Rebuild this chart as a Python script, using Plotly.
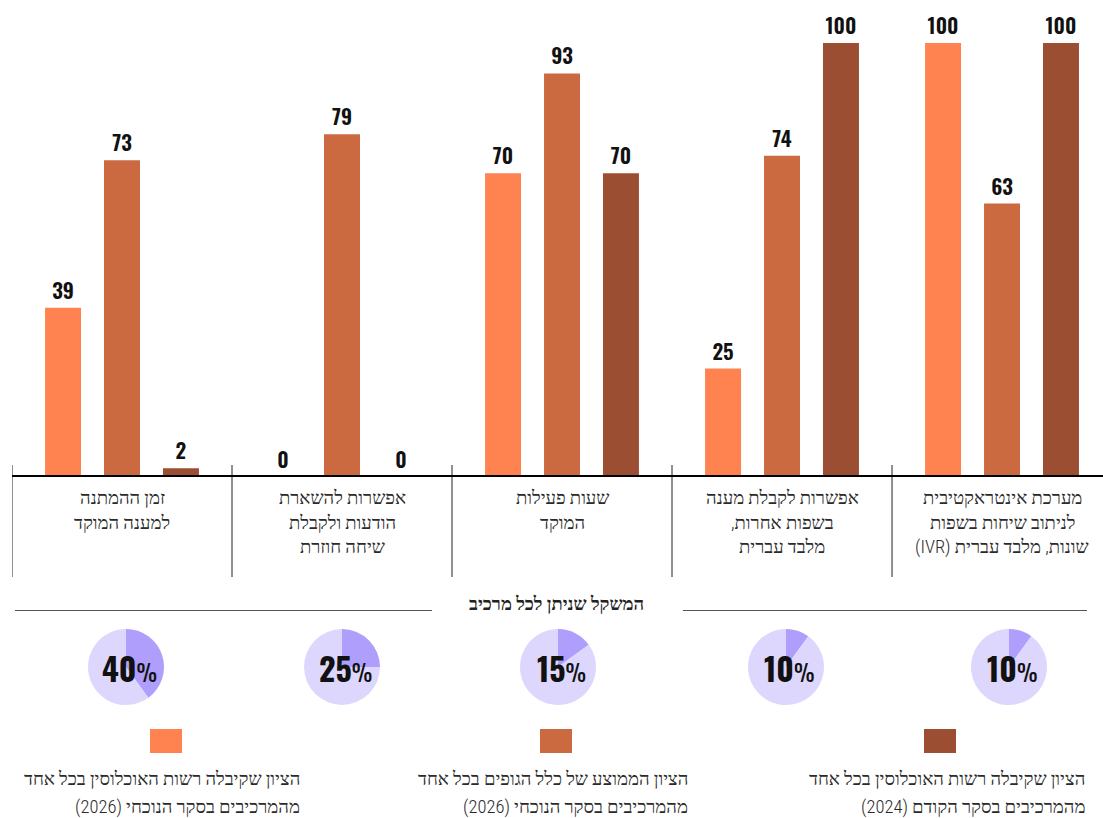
import plotly.graph_objects as go

# ---- data ----
category_lines = [
    ["זמן ההמתנה", "למענה המוקד"],
    ["אפשרות להשארת", "הודעות ולקבלת", "שיחה חוזרת"],
    ["שעות פעילות", "המוקד"],
    ["אפשרות לקבלת מענה", "בשפות אחרות,", "מלבד עברית"],
    ["מערכת אינטראקטיבית", "לניתוב שיחות בשפות", "שונות, מלבד עברית (IVR)"],
]
pop_2026 = [39, 0, 70, 25, 100]
avg_2026 = [73, 79, 93, 74, 63]
pop_2024 = [2, 0, 70, 100, 100]
weights = [40, 25, 15, 10, 10]
weights_title = "המשקל שניתן לכל מרכיב"
series_lines = [
    ["הציון שקיבלה רשות האוכלוסין בכל אחד", "מהמרכיבים בסקר הנוכחי (2026)"],
    ["הציון הממוצע של כלל הגופים בכל אחד", "מהמרכיבים בסקר הנוכחי (2026)"],
    ["הציון שקיבלה רשות האוכלוסין בכל אחד", "מהמרכיבים בסקר הקודם (2024)"],
]
colors = ["#FF8351", "#CB6940", "#9B4E31"]
pie_main = "#B09EFC"
pie_rest = "#DDD7FE"

W, H = 1103, 818
HEB = "Roboto Condensed, serif"
NUM = "Oswald, Roboto Condensed, sans-serif"
RLE, PDF = "\u202B", "\u202C"


def rtl(s):
    return RLE + s + PDF


def px(x):
    return x / W


def py(y):
    return 1 - y / H


x = list(range(len(category_lines)))
series = [pop_2026, avg_2026, pop_2024]

fig = go.Figure()
for vals, col, name in zip(series, colors, series_lines):
    fig.add_trace(go.Bar(
        x=x, y=vals, marker_color=col, marker_line_width=0,
        text=vals, texttemplate="%{text}", textposition="outside",
        constraintext="none", cliponaxis=False,
        textfont=dict(family=NUM, size=21, color="#111111", weight=600),
        hoverinfo="skip", showlegend=False, name=name[0],
        xaxis="x", yaxis="y",
    ))

ann = []
shapes = []

# category labels (one annotation per line)
cat_line_y = [498, 522.5, 547]
for i, lines in enumerate(category_lines):
    for j, line in enumerate(lines):
        ann.append(dict(x=i, xref="x", y=py(cat_line_y[j]), yref="paper", text=rtl(line),
                        showarrow=False, xanchor="center", yanchor="middle",
                        font=dict(family=HEB, size=18.5, color="#2a2a2a", weight=300)))

# separators
for i in range(len(category_lines)):
    shapes.append(dict(type="line", xref="x", x0=i - 0.5, x1=i - 0.5,
                       yref="paper", y0=py(465), y1=py(577),
                       line=dict(color="#222222", width=1)))
# baseline
shapes.append(dict(type="line", xref="paper", x0=px(12), x1=1, yref="y", y0=0, y1=0,
                   line=dict(color="#000000", width=4)))

# weights title and rules
ann.append(dict(x=px(556), y=py(604), xref="paper", yref="paper", text="<b>" + rtl(weights_title) + "</b>",
                showarrow=False, xanchor="center", yanchor="middle",
                font=dict(family=HEB, size=18.5, color="#222222")))
shapes.append(dict(type="line", xref="paper", yref="paper", x0=px(15), x1=px(432), y0=py(610.5), y1=py(610.5),
                   line=dict(color="#555555", width=1)))
shapes.append(dict(type="line", xref="paper", yref="paper", x0=px(683), x1=px(1087), y0=py(610.5), y1=py(610.5),
                   line=dict(color="#555555", width=1)))

# pies
pie_cx = [126, 342, 558, 786, 1009]
pie_cy = 667
R = 38
for w, cx in zip(weights, pie_cx):
    fig.add_trace(go.Pie(
        values=[w, 100 - w], sort=False, direction="clockwise", rotation=0,
        marker=dict(colors=[pie_main, pie_rest], line=dict(width=0)),
        textinfo="none", hoverinfo="skip", showlegend=False,
        domain=dict(x=[px(cx - R), px(cx + R)], y=[py(pie_cy + R), py(pie_cy - R)]),
    ))
    ann.append(dict(x=px(cx + 3), y=py(pie_cy), xref="paper", yref="paper",
                    text="<b>%d</b><span style='font-size:23px;font-weight:400'>%%</span>" % w,
                    showarrow=False, xanchor="center", yanchor="middle",
                    font=dict(family=NUM, size=32, color="#111111")))

# legend
leg_cx = [166, 556, 940]
leg_right = [302, 690, 1087]
leg_line_y = [779, 807]
for col, lines, cx, rx in zip(colors, series_lines, leg_cx, leg_right):
    shapes.append(dict(type="rect", xref="paper", yref="paper",
                       x0=px(cx - 16), x1=px(cx + 16), y0=py(753), y1=py(729),
                       fillcolor=col, line=dict(width=0)))
    for line, ly in zip(lines, leg_line_y):
        ann.append(dict(x=px(rx), y=py(ly), xref="paper", yref="paper", text=rtl(line),
                        showarrow=False, xanchor="right", yanchor="middle",
                        font=dict(family=HEB, size=18.5, color="#2a2a2a", weight=300)))

fig.update_layout(
    width=W, height=H, margin=dict(l=0, r=0, t=0, b=0),
    paper_bgcolor="white", plot_bgcolor="white",
    barmode="group", bargap=0.196, bargroupgap=0.39,
    xaxis=dict(domain=[px(12), 1], range=[-0.5, 4.459], visible=False, fixedrange=True),
    yaxis=dict(domain=[py(477), 1], range=[0, 477 / 4.34], visible=False, fixedrange=True),
    annotations=ann, shapes=shapes,
    font=dict(family=HEB),
)

fig.write_html("out.html", config={"displayModeBar": False},
               post_script="document.body.style.margin='0';")
